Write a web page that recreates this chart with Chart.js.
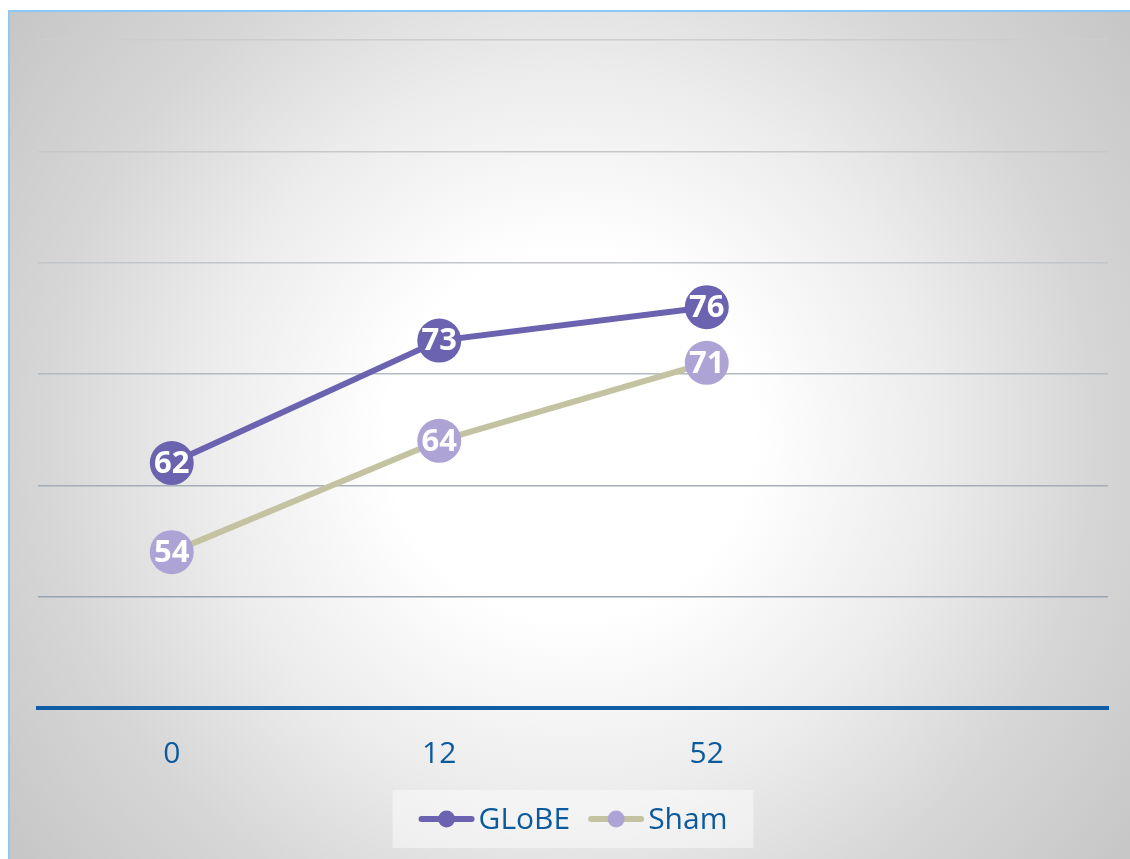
<!DOCTYPE html>
<html>
<head>
<meta charset="utf-8">
<script src="https://cdn.jsdelivr.net/npm/chart.js@4"></script>
<style>
    html, body { margin: 0; padding: 0; background: #ffffff; }
    .chart-box {
        position: absolute;
        left: 8px;
        top: 10px;
        width: 1120px;
        height: 847px;
        border-top: 2px solid #8cc8f8;
        border-left: 2px solid #8cc8f8;
        background: radial-gradient(circle farthest-corner at 50% 50%, #ffffff 0%, #ffffff 26%, #ececec 52%, #d6d6d6 75%, #c6c6c6 100%);
    }
</style>
</head>
<body>
<div class="chart-box">
    <canvas id="weeksChart" width="1120" height="847"></canvas>
</div>
<script>
// Weeks on the x axis, scores per group
const weeks = ['0', '12', '52', ''];
const globeScores = [62, 73, 76];
const shamScores = [54, 64, 71];
const yTicks = [40, 50, 60, 70, 80, 90, 100];

const textBlue = '#0b5a9e';
const gridColors = {
    100: '#cdcdcd',
    90: '#c8c8c8',
    80: '#c2c6ca',
    70: '#b2bac2',
    60: '#a4aeb8',
    50: '#98a4b0'
};

// white value labels centred on every point
const pointLabels = {
    id: 'pointLabels',
    afterDatasetsDraw(chart) {
        const ctx = chart.ctx;
        ctx.save();
        ctx.font = 'bold 31px "Open Sans", sans-serif';
        ctx.fillStyle = '#ffffff';
        ctx.textAlign = 'center';
        ctx.textBaseline = 'middle';
        chart.data.datasets.forEach((ds, i) => {
            chart.getDatasetMeta(i).data.forEach((pt, j) => {
                if (ds.data[j] == null) return;
                ctx.fillText(ds.data[j], pt.x, pt.y + 1);
            });
        });
        ctx.restore();
    }
};

// legend with a line + dot sample, in a pale box under the axis
const lineLegend = {
    id: 'lineLegend',
    afterDraw(chart) {
        const ctx = chart.ctx;
        const sets = chart.data.datasets;
        ctx.save();
        ctx.font = '30px "Open Sans", sans-serif';
        const sample = 56, gap = 4, spacing = 18;
        const widths = sets.map(ds => sample + gap + ctx.measureText(ds.label).width);
        const total = widths.reduce((a, b) => a + b, 0) + spacing * (sets.length - 1);
        const cx = (chart.chartArea.left + chart.chartArea.right) / 2;
        const cy = chart.height - 40;
        const boxW = total + 52, boxH = 58;
        ctx.fillStyle = 'rgba(255,255,255,0.45)';
        ctx.fillRect(cx - boxW / 2, cy - boxH / 2, boxW, boxH);
        let x = cx - total / 2;
        sets.forEach((ds, i) => {
            ctx.strokeStyle = ds.borderColor;
            ctx.lineWidth = 6;
            ctx.lineCap = 'round';
            ctx.beginPath();
            ctx.moveTo(x + 3, cy);
            ctx.lineTo(x + sample - 3, cy);
            ctx.stroke();
            ctx.fillStyle = ds.pointBackgroundColor;
            ctx.beginPath();
            ctx.arc(x + sample / 2, cy, 8.5, 0, Math.PI * 2);
            ctx.fill();
            ctx.fillStyle = textBlue;
            ctx.textBaseline = 'middle';
            ctx.textAlign = 'left';
            ctx.fillText(ds.label, x + sample + gap, cy + 1);
            x += widths[i] + spacing;
        });
        ctx.restore();
    }
};

const ctx = document.getElementById('weeksChart').getContext('2d');
const weeksChart = new Chart(ctx, {
    type: 'line',
    data: {
        labels: weeks,
        datasets: [{
            label: 'GLoBE',
            data: globeScores,
            borderColor: '#6b63b0',
            borderWidth: 6,
            pointBackgroundColor: '#6b63b0',
            pointBorderWidth: 0,
            pointRadius: 22,
            pointHoverRadius: 22
        }, {
            label: 'Sham',
            data: shamScores,
            borderColor: '#c3c3a1',
            borderWidth: 6,
            pointBackgroundColor: '#ada3d5',
            pointBorderWidth: 0,
            pointRadius: 22,
            pointHoverRadius: 22
        }]
    },
    options: {
        responsive: false,
        animation: false,
        events: [],
        layout: {
            padding: { left: 28, right: 20, top: 28, bottom: 59 }
        },
        plugins: {
            legend: { display: false },
            tooltip: { enabled: false }
        },
        scales: {
            x: {
                offset: true,
                grid: { display: false, drawTicks: false },
                border: { color: '#0d5ea6', width: 4 },
                ticks: {
                    color: textBlue,
                    padding: 28,
                    font: { family: '"Open Sans", sans-serif', size: 30 }
                }
            },
            y: {
                min: yTicks[0],
                max: yTicks[yTicks.length - 1],
                afterBuildTicks: axis => { axis.ticks = yTicks.map(v => ({ value: v })); },
                ticks: { display: false },
                border: { display: false },
                grid: {
                    drawTicks: false,
                    lineWidth: 1.5,
                    color: c => gridColors[c.tick.value] || 'rgba(0,0,0,0)'
                }
            }
        }
    },
    plugins: [pointLabels, lineLegend]
});
</script>
</body>
</html>
